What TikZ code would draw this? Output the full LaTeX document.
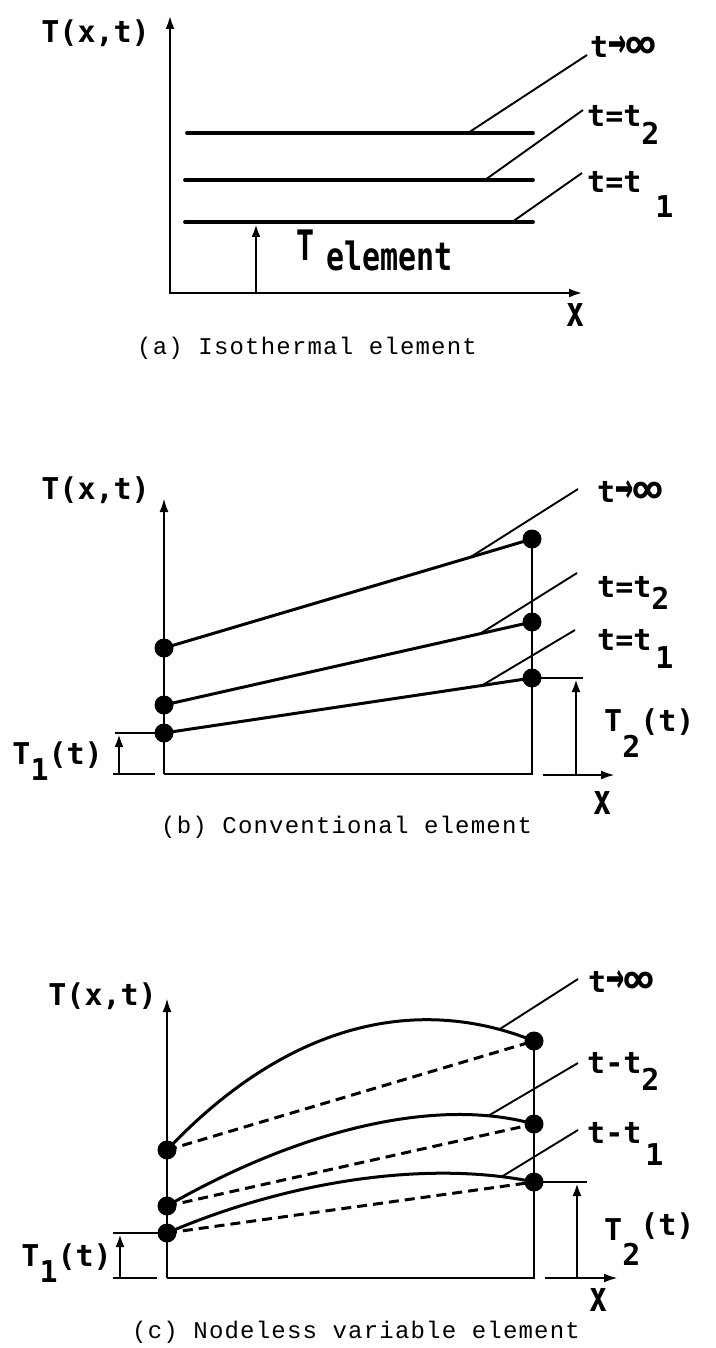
\documentclass[tikz,border=0pt]{standalone}
\usepackage{fontspec}
\usepackage{graphicx}
\usetikzlibrary{arrows.meta,calc}
\newfontfamily\lf{DejaVu Sans Mono Bold}
\newfontfamily\capf[LetterSpace=5]{Liberation Mono}
\newcommand{\infy}{\raisebox{-1pt}{\scalebox{1.6}[1.4]{∞}}}
\newcommand{\tarr}{\raisebox{-1pt}{\scalebox{1.0}[1.7]{→}}}
\tikzset{
 axa/.style={line width=2.9pt, {Latex[length=14pt,width=9pt]}-{Latex[length=14pt,width=9pt]}},
 axup/.style={line width=2.5pt, -{Latex[length=14pt,width=9pt]}},
 axline/.style={line width=2.5pt},
 iso/.style={line width=3.8pt, line cap=round},
 prof/.style={line width=3pt},
 dsh/.style={line width=3pt, dash pattern=on 10pt off 6pt},
 lead/.style={line width=1.9pt},
 dot/.style={circle, fill=black, inner sep=0pt, minimum size=19pt},
 lbl/.style={font=\lf\fontsize{30}{30}\selectfont, inner sep=0pt},
 capt/.style={font=\capf\fontsize{24}{24}\selectfont, inner sep=0pt, anchor=base west},
 brk/.style={line width=2.5pt},
 barr/.style={line width=2.5pt, -{Latex[length=13pt,width=9pt]}},
}
\begin{document}
\begin{tikzpicture}[x=1pt,y=-1pt]
\useasboundingbox (0,0) rectangle (715,1348);

% ---------------- (a) ----------------
\coordinate (aYt) at (170,15);
\coordinate (aO) at (170,293);
\coordinate (aXr) at (583,293);
\draw[axa] (aYt) -- (aO) -- (aXr);
\coordinate (a1l) at (187,133); \coordinate (a1r) at (533,133);
\coordinate (a2l) at (185,180); \coordinate (a2r) at (533,180);
\coordinate (a3l) at (185,222); \coordinate (a3r) at (533,222);
\draw[iso] (a1l) -- (a1r);
\draw[iso] (a2l) -- (a2r);
\draw[iso] (a3l) -- (a3r);
\coordinate (aAs) at (256,293); \coordinate (aAe) at (256,224);
\draw[barr] (aAs) -- (aAe);
\node[lbl, anchor=base west] (la1) at (590,58) {t\tarr\infy};
\node[lbl, anchor=base west] (la2) at (587,127) {t=t\raisebox{-18pt}{2}};
\node[lbl, anchor=base west] (la3) at (587,193) {t=t\hspace{14pt}\raisebox{-25pt}{1}};
\coordinate (a1e) at (587,55); \coordinate (a2e) at (583,110); \coordinate (a3e) at (582,173);
\draw[lead] ($(a1l)!0.812!(a1r)$) -- (a1e);
\draw[lead] ($(a2l)!0.862!(a2r)$) -- (a2e);
\draw[lead] ($(a3l)!0.94!(a3r)$) -- (a3e);
\node[lbl, anchor=base west] (aTel) at (296,260) {\scalebox{1}[1.4]{T}\hspace{12pt}\raisebox{-10pt}{\scalebox{1}[1.3]{element}}};
\node[lbl] (ax) at (576,315) {\scalebox{1}[1.4]{x}};
\node[lbl, anchor=east] (aT) at (150,33) {T(x,t)};
\node[capt] (acap) at (137,354) {(a) Isothermal element};

% ---------------- (b) ----------------
\coordinate (bYt) at (164,498);
\coordinate (bO) at (164,774);
\coordinate (bXe) at (532,774);
\draw[axup] (bO) -- (bYt);
\node[dot] (bL1) at (164,648) {};
\node[dot] (bL2) at (164,705) {};
\node[dot] (bL3) at (164,733) {};
\node[dot] (bR1) at (532,539) {};
\node[dot] (bR2) at (532,622) {};
\node[dot] (bR3) at (532,678) {};
\draw[axline] (bO) -- (bXe) -- (bR1.center);
\draw[prof] (bL1.center) -- (bR1.center);
\draw[prof] (bL2.center) -- (bR2.center);
\draw[prof] (bL3.center) -- (bR3.center);
% T1 bracket
\coordinate (bT1a) at (115,733);
\coordinate (bT1b) at (113,774); \coordinate (bT1c) at (155,774);
\coordinate (bA1s) at (119,774); \coordinate (bA1e) at (119,734);
\draw[brk] (bT1a) -- (bL3.center);
\draw[brk] (bT1b) -- (bT1c);
\draw[barr] (bA1s) -- (bA1e);
% T2 bracket
\coordinate (bT2a) at (583,678);
\coordinate (bA2s) at (576,775); \coordinate (bA2e) at (576,679);
\draw[brk] (bR3.center) -- (bT2a);
\draw[barr] (bA2s) -- (bA2e);
\coordinate (bX2s) at (543,775); \coordinate (bX2e) at (615,775);
\draw[axup] (bX2s) -- (bX2e);
% leaders
\coordinate (b1e) at (578,489); \coordinate (b2e) at (577,573); \coordinate (b3e) at (575,630);
\draw[lead] ($(bL1)!0.832!(bR1)$) -- (b1e);
\draw[lead] ($(bL2)!0.859!(bR2)$) -- (b2e);
\draw[lead] ($(bL3)!0.864!(bR3)$) -- (b3e);
\node[lbl, anchor=base west] (lb1) at (597,502) {t\tarr\infy};
\node[lbl, anchor=base west] (lb2) at (597,597) {t=t\raisebox{-12pt}{2}};
\node[lbl, anchor=base west] (lb3) at (597,650) {t=t\hspace{4pt}\raisebox{-18pt}{1}};
\node[lbl, anchor=base east] (bT1) at (103,764) {T\raisebox{-16pt}{1}(t)};
\node[lbl, anchor=base west] (bT2) at (604,731) {T\raisebox{-26pt}{2}(t)};
\node[lbl] (bx) at (603,803) {\scalebox{1}[1.4]{x}};
\node[lbl, anchor=east] (bT) at (150,490) {T(x,t)};
\node[capt] (bcap) at (161,833) {(b) Conventional element};

% ---------------- (c) ----------------
\coordinate (cYt) at (167,998);
\coordinate (cO) at (167,1278);
\coordinate (cXe) at (534,1278);
\draw[axup] (cO) -- (cYt);
\node[dot] (cL1) at (167,1150) {};
\node[dot] (cL2) at (167,1206) {};
\node[dot] (cL3) at (167,1233) {};
\node[dot] (cR1) at (534,1041) {};
\node[dot] (cR2) at (534,1124) {};
\node[dot] (cR3) at (534,1182) {};
\draw[axline] (cO) -- (cXe) -- (cR1.center);
\draw[prof] (cL1.center) .. controls (290,1020) and (420,995) .. coordinate[pos=0.9] (c1s) (cR1.center);
\draw[prof] (cL2.center) .. controls (290,1135) and (430,1095) .. coordinate[pos=0.86] (c2s) (cR2.center);
\draw[prof] (cL3.center) .. controls (290,1180) and (430,1160) .. coordinate[pos=0.9] (c3s) (cR3.center);
\draw[dsh] (cL1.center) -- (cR1.center);
\draw[dsh] (cL2.center) -- (cR2.center);
\draw[dsh] (cL3.center) -- (cR3.center);
% T1 bracket
\coordinate (cT1a) at (113,1233);
\coordinate (cT1b) at (113,1278); \coordinate (cT1c) at (157,1278);
\coordinate (cA1s) at (120,1278); \coordinate (cA1e) at (120,1234);
\draw[brk] (cT1a) -- (cL3.center);
\draw[brk] (cT1b) -- (cT1c);
\draw[barr] (cA1s) -- (cA1e);
% T2 bracket
\coordinate (cT2a) at (587,1182);
\coordinate (cA2s) at (577,1278); \coordinate (cA2e) at (577,1183);
\draw[brk] (cR3.center) -- (cT2a);
\draw[barr] (cA2s) -- (cA2e);
\coordinate (cX2s) at (545,1278); \coordinate (cX2e) at (618,1278);
\draw[axup] (cX2s) -- (cX2e);
% leaders
\coordinate (c1e) at (578,979); \coordinate (c2e) at (578,1063); \coordinate (c3e) at (578,1130);
\draw[lead] (c1s) -- (c1e);
\draw[lead] (c2s) -- (c2e);
\draw[lead] (c3s) -- (c3e);
\node[lbl, anchor=base west] (lc1) at (588,992) {t\tarr\infy};
\node[lbl, anchor=base west] (lc2) at (587,1073) {t-t\raisebox{-17pt}{2}};
\node[lbl, anchor=base west] (lc3) at (587,1143) {t-t\hspace{4pt}\raisebox{-22pt}{1}};
\node[lbl, anchor=base east] (cT1) at (112,1266) {T\raisebox{-16pt}{1}(t)};
\node[lbl, anchor=base west] (cT2) at (604,1240) {T\raisebox{-25pt}{2}\raisebox{5pt}{(t)}};
\node[lbl] (cx) at (599,1300) {\scalebox{1}[1.4]{x}};
\node[lbl, anchor=east] (cT) at (157,996) {T(x,t)};
\node[capt] (ccap) at (132,1338) {(c) Nodeless variable element};
\end{tikzpicture}
\end{document}
